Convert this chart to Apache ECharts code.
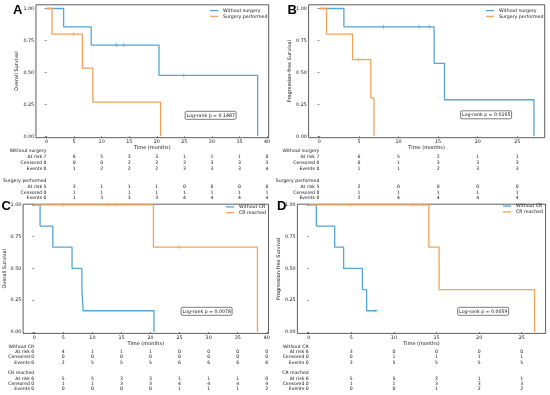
<!DOCTYPE html>
<html><head><meta charset="utf-8">
<script src="https://cdn.jsdelivr.net/npm/echarts@6/dist/echarts.min.js"></script>
<style>html,body{margin:0;padding:0;background:#fff}#c{width:550px;height:395px}</style>
</head><body><div id="c"></div>
<script>
// ---------- Panel A: Overall survival, surgery ----------
const aTicks = [0, 5, 10, 15, 20, 25, 30, 35, 40];
const aTimeWithout = [0, 3.1, 8.1, 20.4, 38.3];
const aSurvWithout = [1, 0.857, 0.714, 0.476, 0];
const aCensTimeWithout = [12.7, 14.0, 24.9];
const aCensSurvWithout = [0.714, 0.714, 0.476];
const aTimeSurgery = [0, 1.0, 6.5, 8.4, 20.7];
const aSurvSurgery = [1, 0.8, 0.533, 0.267, 0];
const aCensTimeSurgery = [4.9];
const aCensSurvSurgery = [0.8];
const aRiskWithout = [7, 6, 5, 3, 3, 1, 1, 1, 0];
const aCensWithout = [0, 0, 0, 2, 2, 3, 3, 3, 3];
const aEvWithout = [0, 1, 2, 2, 2, 3, 3, 3, 4];
const aRiskSurgery = [5, 3, 1, 1, 1, 0, 0, 0, 0];
const aCensSurgery = [0, 1, 1, 1, 1, 1, 1, 1, 1];
const aEvSurgery = [0, 1, 3, 3, 3, 4, 4, 4, 4];

// ---------- Panel B: PFS, surgery ----------
const bTicks = [0, 5, 10, 15, 20, 25];
const bTimeWithout = [0, 3.1, 14.5, 15.8, 27.1];
const bSurvWithout = [1, 0.857, 0.571, 0.286, 0];
const bCensTimeWithout = [8.1, 12.6, 13.9];
const bCensSurvWithout = [0.857, 0.857, 0.857];
const bTimeSurgery = [0, 0.9, 4.2, 6.5, 6.9];
const bSurvSurgery = [1, 0.8, 0.6, 0.3, 0];
const bCensTimeSurgery = [4.9];
const bCensSurvSurgery = [0.6];
const bRiskWithout = [7, 6, 5, 2, 1, 1];
const bCensWithout = [0, 0, 1, 3, 3, 3];
const bEvWithout = [0, 1, 1, 2, 3, 3];
const bRiskSurgery = [5, 2, 0, 0, 0, 0];
const bCensSurgery = [0, 1, 1, 1, 1, 1];
const bEvSurgery = [0, 2, 4, 4, 4, 4];

// ---------- Panel C: Overall survival, CR ----------
const cTicks = [0, 5, 10, 15, 20, 25, 30, 35, 40];
const cTimeWithoutCR = [0, 1.0, 3.2, 6.5, 8.2, 8.4, 20.6];
const cSurvWithoutCR = [1, 0.833, 0.667, 0.5, 0.333, 0.167, 0];
const cCensTimeWithoutCR = [];
const cCensSurvWithoutCR = [];
const cTimeCR = [0, 20.5, 38.4];
const cSurvCR = [1, 0.667, 0];
const cCensTimeCR = [5.0, 12.7, 14.0, 24.9];
const cCensSurvCR = [1, 1, 1, 0.667];
const cRiskWithoutCR = [6, 4, 1, 1, 1, 0, 0, 0, 0];
const cCensWithoutCR = [0, 0, 0, 0, 0, 0, 0, 0, 0];
const cEvWithoutCR = [0, 2, 5, 5, 5, 6, 6, 6, 6];
const cRiskCR = [6, 5, 5, 3, 3, 1, 1, 1, 0];
const cCensCR = [0, 1, 1, 3, 3, 4, 4, 4, 4];
const cEvCR = [0, 0, 0, 0, 0, 1, 1, 1, 2];

// ---------- Panel D: PFS, CR ----------
const dTicks = [0, 5, 10, 15, 20, 25];
const dTimeWithoutCR = [0, 0.9, 3.05, 4.1, 6.3, 6.8, 7.9];
const dSurvWithoutCR = [1, 0.833, 0.667, 0.5, 0.333, 0.167, 0.167];
const dCensTimeWithoutCR = [7.9];
const dCensSurvWithoutCR = [0.167];
const dTimeCR = [0, 14.1, 15.3, 26.5];
const dSurvCR = [1, 0.667, 0.333, 0];
const dCensTimeCR = [4.85, 12.2, 13.4];
const dCensSurvCR = [1, 1, 1];
const dRiskWithoutCR = [6, 3, 0, 0, 0, 0];
const dCensWithoutCR = [0, 0, 1, 1, 1, 1];
const dEvWithoutCR = [0, 3, 5, 5, 5, 5];
const dRiskCR = [6, 5, 5, 2, 1, 1];
const dCensCR = [0, 1, 1, 3, 3, 3];
const dEvCR = [0, 0, 0, 1, 2, 2];

const yTicks = [0, 0.25, 0.5, 0.75, 1.0];
const FONT = 'DejaVu Sans';
const BLUE = '#55a5d6';
const ORANGE = '#f4a25a';
const PLUS = 'path://M4,0h2v4h4v2h-4v4h-2v-4h-4v-2h4z';

const panels = [
  { letter: 'A', letterPos: [13, 4], grid: { left: 34.5, top: 4.8, width: 234.2, height: 132.9 },
    x: [-1.92, 40.3], y: [-0.011, 1.029], ticks: aTicks, ylabel: 'Overall Survival',
    names: ['Without surgery', 'Surgery performed'],
    curves: [[aTimeWithout, aSurvWithout, aCensTimeWithout, aCensSurvWithout],
             [aTimeSurgery, aSurvSurgery, aCensTimeSurgery, aCensSurvSurgery]],
    risk: [[aRiskWithout, aCensWithout, aEvWithout], [aRiskSurgery, aCensSurgery, aEvSurgery]],
    legend: [210, 8], box: ['Log-rank p = 0.1487', 185, 111.5], tableTop: 148.1, lh: 5.9 },
  { letter: 'B', letterPos: [287.5, 4], grid: { left: 308.6, top: 4.8, width: 236.1, height: 132.9 },
    x: [-1.355, 28.46], y: [-0.011, 1.029], ticks: bTicks, ylabel: 'Progression-free Survival',
    names: ['Without surgery', 'Surgery performed'],
    curves: [[bTimeWithout, bSurvWithout, bCensTimeWithout, bCensSurvWithout],
             [bTimeSurgery, bSurvSurgery, bCensTimeSurgery, bCensSurvSurgery]],
    risk: [[bRiskWithout, bCensWithout, bEvWithout], [bRiskSurgery, bCensSurgery, bEvSurgery]],
    legend: [486, 8], box: ['Log-rank p = 0.0165', 460.5, 111], tableTop: 148.1, lh: 5.9 },
  { letter: 'C', letterPos: [1.5, 199.5], grid: { left: 23.1, top: 204.2, width: 245.4, height: 129.2 },
    x: [-1.92, 40.3], y: [-0.011, 1.005], ticks: cTicks, ylabel: 'Overall Survival',
    names: ['Without CR', 'CR reached'],
    curves: [[cTimeWithoutCR, cSurvWithoutCR, cCensTimeWithoutCR, cCensSurvWithoutCR],
             [cTimeCR, cSurvCR, cCensTimeCR, cCensSurvCR]],
    risk: [[cRiskWithoutCR, cCensWithoutCR, cEvWithoutCR], [cRiskCR, cCensCR, cEvCR]],
    legend: [226, 204.3], box: ['Log-rank p = 0.0078', 181, 307.5], tableTop: 343.8, lh: 5.35 },
  { letter: 'D', letterPos: [277, 199.5], grid: { left: 297.4, top: 204.2, width: 248.2, height: 129.2 },
    x: [-1.325, 27.8], y: [-0.011, 1.005], ticks: dTicks, ylabel: 'Progression-free Survival',
    names: ['Without CR', 'CR reached'],
    curves: [[dTimeWithoutCR, dSurvWithoutCR, dCensTimeWithoutCR, dCensSurvWithoutCR],
             [dTimeCR, dSurvCR, dCensTimeCR, dCensSurvCR]],
    risk: [[dRiskWithoutCR, dCensWithoutCR, dEvWithoutCR], [dRiskCR, dCensCR, dEvCR]],
    legend: [503, 203.5], box: ['Log-rank p = 0.0059', 457.5, 307.5], tableTop: 343.8, lh: 5.35 }
];

const option = { animation: false, backgroundColor: '#fff', grid: [], xAxis: [], yAxis: [], series: [], legend: [], title: [] };
const txt = { fontFamily: FONT, color: '#111' };

panels.forEach((p, i) => {
  option.grid.push(Object.assign({ show: true, borderColor: '#333', borderWidth: 0.8, backgroundColor: 'transparent' }, p.grid));
  const gridBottom = p.grid.top + p.grid.height;
  const base = option.xAxis.length;
  option.xAxis.push({
    type: 'value', gridIndex: i, min: p.x[0], max: p.x[1], position: 'bottom',
    name: 'Time (months)', nameLocation: 'middle', nameGap: 6.6,
    nameTextStyle: Object.assign({ fontSize: 5 }, txt),
    axisLine: { show: false }, splitLine: { show: false },
    axisTick: { show: true, length: 1.8, customValues: p.ticks, lineStyle: { color: '#333', width: 0.6 } },
    axisLabel: Object.assign({ fontSize: 4.8, margin: 1.6, customValues: p.ticks, formatter: v => String(v) }, txt)
  });
  const [g1, g2] = p.risk;
  const firstLabel = [p.names[0], 'At risk ' + g1[0][0], 'Censored ' + g1[1][0], 'Events ' + g1[2][0], '',
                      p.names[1], 'At risk ' + g2[0][0], 'Censored ' + g2[1][0], 'Events ' + g2[2][0]].join('\n');
  const colLabel = v => {
    const k = p.ticks.indexOf(v);
    return ['', g1[0][k], g1[1][k], g1[2][k], '', '', g2[0][k], g2[1][k], g2[2][k]].join('\n');
  };
  const tableMargin = p.tableTop - gridBottom;
  option.xAxis.push({
    type: 'value', gridIndex: i, min: p.x[0], max: p.x[1], position: 'bottom', offset: 0,
    axisLine: { show: false }, axisTick: { show: false }, splitLine: { show: false },
    axisLabel: Object.assign({ fontSize: 4.6, lineHeight: p.lh, margin: tableMargin, align: 'right',
      customValues: [p.ticks[0]], formatter: () => firstLabel }, txt)
  });
  option.xAxis.push({
    type: 'value', gridIndex: i, min: p.x[0], max: p.x[1], position: 'bottom', offset: 0,
    axisLine: { show: false }, axisTick: { show: false }, splitLine: { show: false },
    axisLabel: Object.assign({ fontSize: 4.6, lineHeight: p.lh, margin: tableMargin, align: 'center',
      customValues: p.ticks.slice(1), formatter: colLabel }, txt)
  });
  option.yAxis.push({
    type: 'value', gridIndex: i, min: p.y[0], max: p.y[1],
    name: p.ylabel, nameLocation: 'middle', nameGap: 12.5, nameRotate: 90,
    nameTextStyle: Object.assign({ fontSize: 5 }, txt),
    axisLine: { show: false }, splitLine: { show: false },
    axisTick: { show: true, length: 1.8, customValues: yTicks, lineStyle: { color: '#333', width: 0.6 } },
    axisLabel: Object.assign({ fontSize: 4.8, margin: 1.8, customValues: yTicks, formatter: v => v.toFixed(2) }, txt)
  });
  const colors = [BLUE, ORANGE];
  p.curves.forEach((c, j) => {
    option.series.push({
      type: 'line', name: p.names[j], xAxisIndex: base, yAxisIndex: i, step: 'end',
      showSymbol: false, symbol: 'none', color: colors[j],
      lineStyle: { width: 1.3, color: colors[j] },
      data: c[0].map((t, k) => [t, c[1][k]]), z: 2 + j
    });
    option.series.push({
      type: 'scatter', name: p.names[j], xAxisIndex: base, yAxisIndex: i,
      symbol: PLUS, symbolSize: 4, color: colors[j], itemStyle: { color: colors[j] },
      data: c[2].map((t, k) => [t, c[3][k]]), z: 4
    });
  });
  option.legend.push({
    data: p.names.map(n => ({ name: n, icon: 'rect' })), left: p.legend[0], top: p.legend[1],
    orient: 'vertical', itemWidth: 8, itemHeight: 1.3, itemGap: 0.6, padding: 0,
    textStyle: Object.assign({ fontSize: 4.7, lineHeight: 5.2 }, txt)
  });
  option.title.push({
    text: p.box[0], left: p.box[1], top: p.box[2], padding: [1.3, 1.6, 1.0, 1.6],
    borderColor: '#222', borderWidth: 0.6, borderRadius: 1.5, backgroundColor: '#fff',
    textStyle: Object.assign({ fontSize: 4.7, fontWeight: 'normal', lineHeight: 5.4 }, txt)
  });
  option.title.push({
    text: p.letter, left: p.letterPos[0], top: p.letterPos[1], padding: 0,
    textStyle: { fontFamily: 'Liberation Sans', fontSize: 13, fontWeight: 'bold', color: '#000', lineHeight: 13 }
  });
});

const chart = echarts.init(document.getElementById('c'), null, { renderer: 'canvas' });
chart.setOption(option);
</script>
</body></html>
